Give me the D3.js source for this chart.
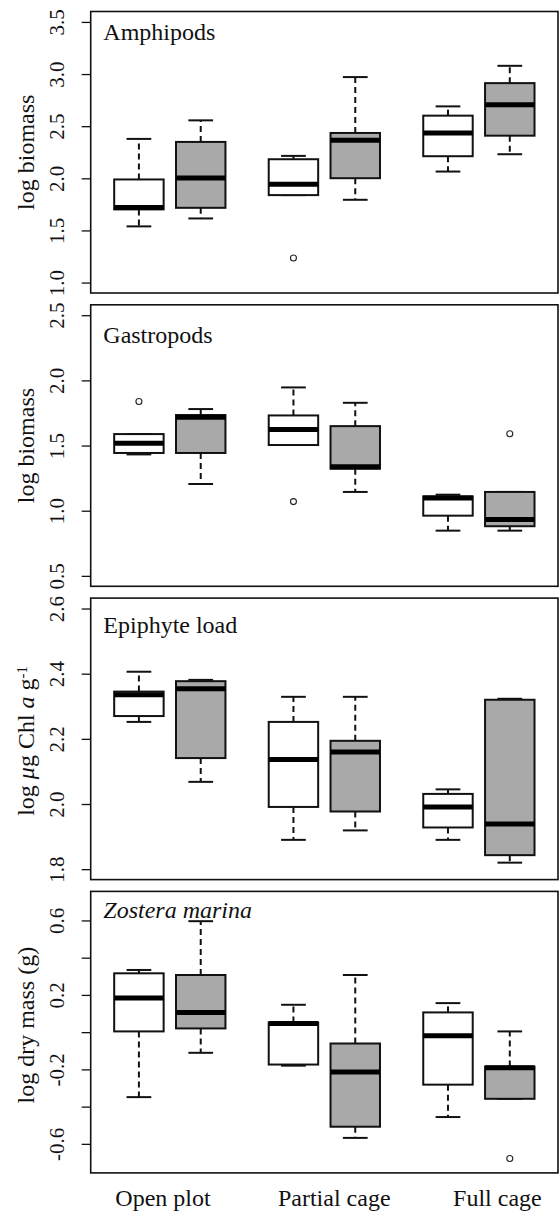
<!DOCTYPE html>
<html>
<head>
<meta charset="utf-8">
<script src="https://cdn.jsdelivr.net/npm/d3@7"></script>
<style>
  html, body { margin: 0; padding: 0; background: #fff; }
  svg { display: block; }
</style>
</head>
<body>
<div id="chart"></div>
<script>
// ---------------- DATA ----------------
const treatments = ["Open plot", "Partial cage", "Full cage"];
// box order: Open plot (white, gray), Partial cage (white, gray), Full cage (white, gray)
const boxFills = ["white", "gray", "white", "gray", "white", "gray"];

const panelTitles = ["Amphipods", "Gastropods", "Epiphyte load", "Zostera marina"];

// each stat row: [lower whisker, Q1, median, Q3, upper whisker]
const amphipodStats = [
  [1.539, 1.702, 1.721, 1.989, 2.378],
  [1.615, 1.717, 2.004, 2.349, 2.556],
  [1.839, 1.839, 1.944, 2.183, 2.215],
  [1.794, 2.001, 2.365, 2.435, 2.971],
  [2.065, 2.212, 2.435, 2.601, 2.690],
  [2.231, 2.409, 2.706, 2.913, 3.079]
];
const amphipodOutliers = [[], [], [1.236], [], [], []];

const gastropodStats = [
  [1.432, 1.443, 1.517, 1.588, 1.588],
  [1.205, 1.443, 1.718, 1.734, 1.780],
  [1.504, 1.504, 1.624, 1.731, 1.946],
  [1.144, 1.322, 1.338, 1.649, 1.828],
  [0.847, 0.962, 1.098, 1.110, 1.123],
  [0.847, 0.881, 0.932, 1.144, 1.144]
];
const gastropodOutliers = [[1.838], [], [1.070], [], [], [1.591]];

const epiphyteStats = [
  [2.252, 2.270, 2.335, 2.345, 2.406],
  [2.068, 2.141, 2.354, 2.377, 2.381],
  [1.890, 1.991, 2.137, 2.252, 2.329],
  [1.919, 1.977, 2.160, 2.194, 2.329],
  [1.890, 1.928, 1.991, 2.031, 2.045],
  [1.820, 1.843, 1.939, 2.320, 2.323]
];
const epiphyteOutliers = [[], [], [], [], [], []];

const zosteraStats = [
  [-0.349, 0.004, 0.183, 0.316, 0.334],
  [-0.111, 0.020, 0.106, 0.307, 0.596],
  [-0.180, -0.174, 0.047, 0.052, 0.147],
  [-0.568, -0.508, -0.214, -0.061, 0.307],
  [-0.456, -0.282, -0.020, 0.106, 0.156],
  [-0.358, -0.358, -0.191, -0.185, 0.004]
];
const zosteraOutliers = [[], [], [], [], [], [-0.679]];

// y tick values and labels
const amphipodTicks = [1.0, 1.5, 2.0, 2.5, 3.0, 3.5];
const gastropodTicks = [0.5, 1.0, 1.5, 2.0, 2.5];
const epiphyteTicks = [1.8, 2.0, 2.2, 2.4, 2.6];
const zosteraTicks = [-0.6, -0.4, -0.2, 0.0, 0.2, 0.4, 0.6];
const zosteraTickLabels = ["-0.6", "", "-0.2", "", "0.2", "", "0.6"];

// ---------------- LAYOUT ----------------
const FONT = '"Liberation Serif", "DejaVu Serif", "Times New Roman", serif';
const W = 559, H = 1213;
const frameLeft = 90.7, frameRight = 558;
const panelTop0 = 11.5, panelStep = 293.3, panelHeight = 281.5;
const boxAt = [1, 2, 3.5, 4.5, 6, 7];          // R boxplot "at" positions
const labelAt = [1.39, 4.16, 6.80];             // x-axis label positions
const xDomain = [0.22, 7.78];
const boxWex = 0.8, stapleWex = 0.4;

const panels = [
  { title: panelTitles[0], stats: amphipodStats, out: amphipodOutliers, ticks: amphipodTicks,
    fmt: d3.format(".1f"), domain: [0.9, 3.6], titleOff: 28.2, ylab: "biomass", ylabShift: 0 },
  { title: panelTitles[1], stats: gastropodStats, out: gastropodOutliers, ticks: gastropodTicks,
    fmt: d3.format(".1f"), domain: [0.42, 2.58], titleOff: 38.5, ylab: "biomass", ylabShift: 0 },
  { title: panelTitles[2], stats: epiphyteStats, out: epiphyteOutliers, ticks: epiphyteTicks,
    fmt: d3.format(".1f"), domain: [1.768, 2.632], titleOff: 35.2, ylab: "chl", ylabShift: 2 },
  { title: panelTitles[3], stats: zosteraStats, out: zosteraOutliers, ticks: zosteraTicks,
    fmt: (d, i) => zosteraTickLabels[i], domain: [-0.756, 0.756], titleOff: 26.9, ylab: "dry", ylabShift: -7, italic: true }
];

const svg = d3.select("#chart").append("svg")
  .attr("width", W).attr("height", H)
  .style("font-family", FONT);
svg.append("rect").attr("width", W).attr("height", H).attr("fill", "#fff");

const x = d3.scaleLinear().domain(xDomain).range([frameLeft, frameRight]);
const boxHalf = (x(boxWex) - x(0)) / 2;
const capHalf = (x(stapleWex) - x(0)) / 2;
const fillColor = { white: "#ffffff", gray: "#a9a9a9" };

panels.forEach((p, pi) => {
  const top = panelTop0 + pi * panelStep;
  const bottom = top + panelHeight;
  const y = d3.scaleLinear().domain(p.domain).range([bottom, top]);
  const g = svg.append("g");

  // y axis
  const axis = d3.axisLeft(y).tickValues(p.ticks).tickSize(9).tickFormat(p.fmt);
  const ax = g.append("g").attr("transform", `translate(${frameLeft},0)`).call(axis);
  ax.attr("font-family", null).attr("font-size", null);
  ax.select(".domain").remove();
  ax.selectAll(".tick line").attr("stroke", "#111").attr("stroke-width", 1.3);
  ax.selectAll(".tick text")
    .attr("x", null).attr("dy", null)
    .attr("transform", "translate(-26.5,0) rotate(-90)")
    .attr("text-anchor", "middle")
    .style("font-family", FONT)
    .style("font-size", "21px")
    .attr("fill", "#111");

  // y label
  const cy = (top + bottom) / 2 + p.ylabShift;
  const yl = g.append("text")
    .attr("transform", `translate(34,${cy}) rotate(-90)`)
    .attr("text-anchor", "middle")
    .style("font-family", FONT)
    .style("font-size", "24px")
    .attr("fill", "#111");
  if (p.ylab === "biomass") {
    yl.text("log biomass");
  } else if (p.ylab === "dry") {
    yl.text("log dry mass (g)");
  } else {
    yl.append("tspan").text("log ");
    yl.append("tspan").attr("font-style", "italic").text("\u03bc");
    yl.append("tspan").text("g Chl ");
    yl.append("tspan").attr("font-style", "italic").text("a");
    yl.append("tspan").text(" g");
    yl.append("tspan").attr("dy", "-0.5em").style("font-size", "15px").text("-1");
  }

  // boxes
  p.stats.forEach((s, i) => {
    const cx = x(boxAt[i]);
    const [lo, q1, med, q3, hi] = s;
    const bg = g.append("g");
    // whiskers (dashed)
    bg.append("line").attr("x1", cx).attr("x2", cx).attr("y1", y(q3)).attr("y2", y(hi))
      .attr("stroke", "#111").attr("stroke-width", 2).attr("stroke-dasharray", "6,4");
    bg.append("line").attr("x1", cx).attr("x2", cx).attr("y1", y(q1)).attr("y2", y(lo))
      .attr("stroke", "#111").attr("stroke-width", 2).attr("stroke-dasharray", "6,4");
    // staples
    [lo, hi].forEach(v => {
      bg.append("line").attr("x1", cx - capHalf).attr("x2", cx + capHalf)
        .attr("y1", y(v)).attr("y2", y(v))
        .attr("stroke", "#111").attr("stroke-width", 2);
    });
    // box
    bg.append("rect").attr("x", cx - boxHalf).attr("width", 2 * boxHalf)
      .attr("y", y(q3)).attr("height", Math.max(0.01, y(q1) - y(q3)))
      .attr("fill", fillColor[boxFills[i]]).attr("stroke", "#111").attr("stroke-width", 2);
    // median
    bg.append("line").attr("x1", cx - boxHalf).attr("x2", cx + boxHalf)
      .attr("y1", y(med)).attr("y2", y(med))
      .attr("stroke", "#000").attr("stroke-width", 5);
    // outliers
    p.out[i].forEach(v => {
      bg.append("circle").attr("cx", cx).attr("cy", y(v)).attr("r", 3)
        .attr("fill", "none").attr("stroke", "#222").attr("stroke-width", 1.1);
    });
  });

  // frame
  g.append("rect").attr("x", frameLeft).attr("y", top)
    .attr("width", frameRight - frameLeft).attr("height", bottom - top)
    .attr("fill", "none").attr("stroke", "#111").attr("stroke-width", 1.6);

  // title
  g.append("text").attr("x", 103.3).attr("y", top + p.titleOff)
    .style("font-family", FONT)
    .style("font-size", "24px")
    .style("font-style", p.italic ? "italic" : "normal")
    .attr("fill", "#111")
    .text(p.title);
});

// x-axis category labels
svg.append("g").selectAll("text").data(treatments).join("text")
  .attr("x", (d, i) => x(labelAt[i]))
  .attr("y", 1206)
  .attr("text-anchor", "middle")
  .style("font-family", FONT)
  .style("font-size", "24px")
  .attr("fill", "#111")
  .text(d => d);
</script>
</body>
</html>
